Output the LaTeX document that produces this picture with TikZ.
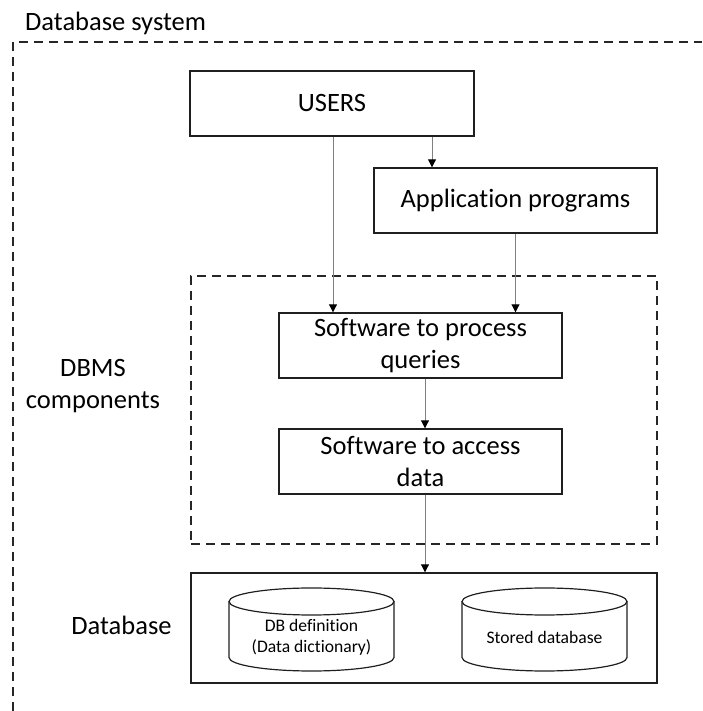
\documentclass[tikz,border=0pt]{standalone}
\usepackage{fontspec}
\setmainfont{Carlito}[Ligatures=CommonOff]
\usetikzlibrary{arrows.meta}
\newcommand\lblfont{\fontsize{26.5}{32}\selectfont}
\newcommand\cylfont{\fontsize{17.6}{21}\selectfont}
\begin{document}
\begin{tikzpicture}[x=1pt,y=1pt,
  box/.style={draw=black!88,line width=1.4pt,minimum height=65pt,
    inner sep=0pt,align=center,font=\lblfont},
  frame/.style={draw=black!85,line width=1.4pt,dash pattern=on 9pt off 6pt},
  link/.style={draw=black!50,line width=1pt,
    -{Triangle[width=8pt,length=8pt,color=black]}},
  cyl/.style={draw=black!88,line width=1.2pt,fill=white},
  label/.style={inner sep=0pt,align=center,font=\lblfont}]

\useasboundingbox (0,0) rectangle (702,711);

% outer system frame (runs off the right and bottom edges)
\draw[frame] (13,0) -- (13,669) -- (702,669);
\node[label,anchor=base west] (sys) at (25,680) {Database system};

% boxes
\node[box,minimum width=284pt] (users) at (332,607.5) {USERS};
\node[box,minimum width=283pt] (app) at (515.5,510.5) {Application programs};
\node[box,minimum width=283pt] (proc) at (420.5,365.5) {Software to process\\queries};
\node[box,minimum width=283pt] (acc) at (420.5,249.5) {Software to access\\data};

% DBMS component frame
\node[frame,minimum width=466pt,minimum height=268pt,inner sep=0pt] (dbms) at (424,301) {};
\node[label] (dbmslbl) at (93,324.5) {DBMS\\components};

% database box with its two stores
\node[draw=black!88,line width=1.4pt,minimum width=466pt,minimum height=110pt,inner sep=0pt] (db) at (424,83) {};
\node[label] (dblbl) at (121.5,86) {Database};

\foreach \cx in {311.5,544.5}{
  \draw[cyl] (\cx-82.5,109.5) -- (\cx-82.5,53.5)
    arc[start angle=180,end angle=360,x radius=82.5pt,y radius=13.5pt]
    -- (\cx+82.5,109.5);
  \draw[cyl] (\cx,109.5) ellipse[x radius=82.5pt,y radius=13.5pt];
}
\node[inner sep=0pt,align=center,font=\cylfont] (dict) at (311.5,73.5) {DB definition\\(Data dictionary)};
\node[inner sep=0pt,align=center,font=\cylfont] (stored) at (544.5,74) {Stored database};

% connectors
\draw[link] ([xshift=1pt]users.south) -- ([xshift=1pt]users.south |- proc.north);
\draw[link] ([xshift=100pt]users.south) -- ([xshift=100pt]users.south |- app.north);
\draw[link] (app.south) -- (app.south |- proc.north);
\draw[link] ([xshift=4.5pt]proc.south) -- ([xshift=4.5pt]proc.south |- acc.north);
\draw[link] ([xshift=4.5pt]acc.south) -- ([xshift=4.5pt]acc.south |- db.north);
\end{tikzpicture}
\end{document}
